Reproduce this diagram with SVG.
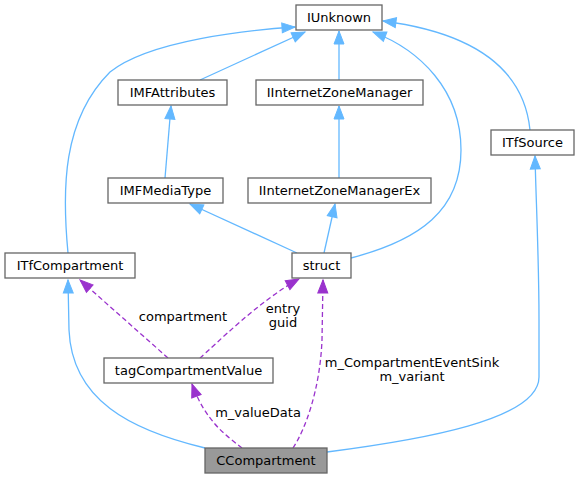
<svg xmlns="http://www.w3.org/2000/svg" width="579" height="479" viewBox="0 0 579 479">
<style>
.n rect{fill:#ffffff;stroke:#666666;stroke-width:1.3}
.n.hl rect{fill:#999999}
text{font-family:"DejaVu Sans","Liberation Sans",sans-serif;font-size:13px;fill:#000000;text-anchor:middle}
.inh{fill:none;stroke:#63b8ff;stroke-width:1.3;marker-end:url(#ab)}
.use{fill:none;stroke:#9a32cd;stroke-width:1.3;stroke-dasharray:5,3;marker-end:url(#ap)}
</style>
<defs>
<marker id="ab" markerUnits="userSpaceOnUse" markerWidth="15" markerHeight="12" refX="13" refY="5" orient="auto" overflow="visible">
<path d="M0,0 L13,5 L0,10 Z" fill="#63b8ff" stroke="#63b8ff" stroke-width="1"/>
</marker>
<marker id="ap" markerUnits="userSpaceOnUse" markerWidth="15" markerHeight="12" refX="13" refY="5" orient="auto" overflow="visible">
<path d="M0,0 L13,5 L0,10 Z" fill="#9a32cd" stroke="#9a32cd" stroke-width="1" stroke-dasharray="none"/>
</marker>
</defs>
<g id="connectors">
<path class="inh" d="M200,80 L305,32"/>
<path class="inh" d="M339,80 L339,31"/>
<path class="inh" d="M68,253 C62,190 62,120 110,72 C150,40 250,30 295,27"/>
<path class="inh" d="M351,258 C420,240 461,210 461,150 C461,90 420,50 373,32"/>
<path class="inh" d="M530,130 C525,80 490,35 383,21"/>
<path class="inh" d="M165,178 L171,106"/>
<path class="inh" d="M339,178 L339,106"/>
<path class="inh" d="M297,253 L190,204"/>
<path class="inh" d="M324,253 L335,204"/>
<path class="inh" d="M327,452 C420,440 539,420 539,377 L539,320 C539,260 536,200 535,156"/>
<path class="inh" d="M205,448 C130,430 72,400 69,330 L68,280"/>
<path class="use" d="M168,358 L80,280"/>
<path class="use" d="M200,358 C215,345 260,300 299,279"/>
<path class="use" d="M242,448 C225,435 205,420 192,384"/>
<path class="use" d="M293,448 C305,430 320,390 322,340 L323,280"/>
<text x="183" y="321">compartment</text>
<text x="283" y="313">entry</text>
<text x="283" y="327">guid</text>
<text x="258" y="417">m_valueData</text>
<text x="412" y="367">m_CompartmentEventSink</text>
<text x="412" y="381">m_variant</text>
</g>
<g id="IUnknown" class="n"><rect x="296" y="5" width="86" height="25"/><text x="339" y="22">IUnknown</text></g>
<g id="IMFAttributes" class="n"><rect x="118" y="80" width="109" height="25"/><text x="172.5" y="97">IMFAttributes</text></g>
<g id="IInternetZoneManager" class="n"><rect x="256" y="80" width="167" height="25"/><text x="339.5" y="97">IInternetZoneManager</text></g>
<g id="ITfSource" class="n"><rect x="491" y="130" width="83" height="25"/><text x="532.5" y="147">ITfSource</text></g>
<g id="IMFMediaType" class="n"><rect x="108" y="178" width="115" height="25"/><text x="165.5" y="195">IMFMediaType</text></g>
<g id="IInternetZoneManagerEx" class="n"><rect x="248" y="178" width="183" height="25"/><text x="339.5" y="195">IInternetZoneManagerEx</text></g>
<g id="ITfCompartment" class="n"><rect x="5" y="253" width="130" height="25"/><text x="70" y="270">ITfCompartment</text></g>
<g id="struct" class="n"><rect x="292" y="253" width="59" height="25"/><text x="321.5" y="270">struct</text></g>
<g id="tagCompartmentValue" class="n"><rect x="104" y="358" width="169" height="25"/><text x="188.5" y="375">tagCompartmentValue</text></g>
<g id="CCompartment" class="n hl"><rect x="205" y="448" width="122" height="25"/><text x="266" y="465">CCompartment</text></g>
</svg>
